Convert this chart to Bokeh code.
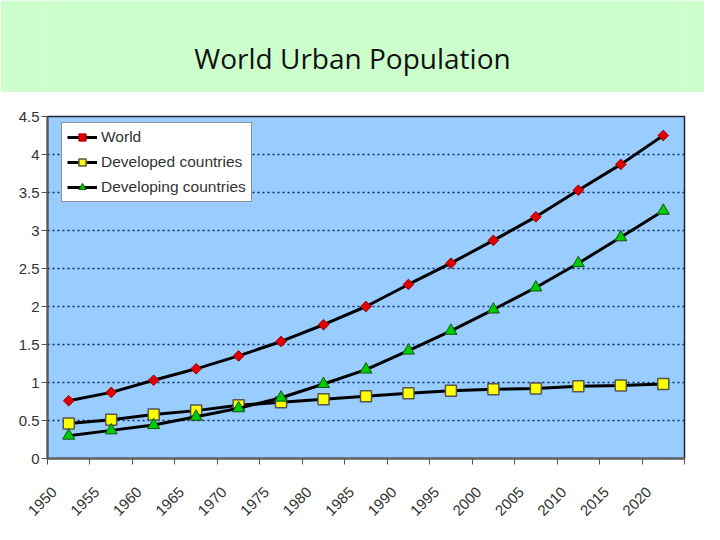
from math import pi
from bokeh.plotting import figure
from bokeh.models import FixedTicker, Label, Legend, LegendItem, LinearAxis, Range1d
from bokeh.layouts import column
from bokeh.embed import file_html
from bokeh.resources import INLINE

title_text = "World Urban Population"
years = [1950, 1955, 1960, 1965, 1970, 1975, 1980, 1985, 1990, 1995, 2000, 2005, 2010, 2015, 2020]
world = [0.76, 0.87, 1.03, 1.18, 1.35, 1.54, 1.76, 2.00, 2.29, 2.57, 2.87, 3.18, 3.53, 3.87, 4.25]
developed = [0.46, 0.51, 0.58, 0.63, 0.70, 0.74, 0.78, 0.82, 0.86, 0.89, 0.91, 0.92, 0.95, 0.96, 0.98]
developing = [0.30, 0.37, 0.44, 0.55, 0.66, 0.80, 0.98, 1.17, 1.42, 1.68, 1.96, 2.25, 2.57, 2.91, 3.26]
series_names = ["World", "Developed countries", "Developing countries"]
y_ticks = [0, 0.5, 1, 1.5, 2, 2.5, 3, 3.5, 4, 4.5]
y_tick_labels = ["0", "0.5", "1", "1.5", "2", "2.5", "3", "3.5", "4", "4.5"]
x_boundaries = [1947.5, 1952.5, 1957.5, 1962.5, 1967.5, 1972.5, 1977.5, 1982.5, 1987.5,
                1992.5, 1997.5, 2002.5, 2007.5, 2012.5, 2017.5, 2022.5]

FONT = "Liberation Sans"
TXT = "#333333"

header = figure(width=704, height=92, x_range=(0, 1), y_range=(0, 1),
                toolbar_location=None, output_backend="svg",
                x_axis_location=None, y_axis_location=None, min_border=0,
                border_fill_color="#CCFFCC", background_fill_color="#CCFFCC",
                outline_line_color=None)
header.grid.visible = False
header.add_layout(Label(x=305, y=35, x_units="screen", y_units="screen", text=title_text,
                        text_align="center", text_baseline="alphabetic",
                        text_font="Open Sans", text_font_size="28px", text_color="#111111"))

p = figure(width=704, height=432, x_range=(1947.5, 2022.5), y_range=(0, 4.5),
           toolbar_location=None, output_backend="svg",
           min_border_left=47, min_border_right=20, min_border_top=24, min_border_bottom=66,
           background_fill_color="#99CCFF", border_fill_color="white",
           outline_line_color="#222233", outline_line_width=1.5)

p.xgrid.visible = False
p.ygrid.ticker = FixedTicker(ticks=y_ticks)
p.ygrid.grid_line_color = "#0b2a5a"
p.ygrid.grid_line_dash = "2 3"
p.ygrid.grid_line_width = 1.5

p.yaxis.ticker = FixedTicker(ticks=y_ticks)
p.yaxis.major_label_overrides = {float(t): s for t, s in zip(y_ticks, y_tick_labels)}
p.yaxis.major_label_text_font = FONT
p.yaxis.major_label_text_font_size = "15px"
p.yaxis.major_label_text_color = TXT
p.yaxis.axis_line_color = "#555555"
p.yaxis.axis_line_width = 2
p.yaxis.major_tick_line_color = "#555555"
p.yaxis.major_tick_out = 6
p.yaxis.major_tick_in = 0
p.yaxis.minor_tick_line_color = None
p.yaxis.major_label_standoff = 2

# main x axis: only the category-boundary ticks
p.xaxis.ticker = FixedTicker(ticks=[], minor_ticks=x_boundaries)
p.xaxis.major_tick_line_color = None
p.xaxis.major_tick_out = 0
p.xaxis.major_tick_in = 0
p.xaxis.minor_tick_line_color = "#555555"
p.xaxis.minor_tick_out = 6
p.xaxis.minor_tick_in = 0
p.xaxis.axis_line_color = "#666666"
p.xaxis.axis_line_width = 2.5
p.xaxis.major_label_standoff = 0
p.xaxis.major_label_text_font_size = "0px"

# label axis, slightly offset like the spreadsheet's rotated category labels
p.extra_x_ranges = {"labels": Range1d(1949.2, 2024.2)}
lab_axis = LinearAxis(x_range_name="labels", ticker=FixedTicker(ticks=years),
                      axis_line_color=None, major_tick_line_color=None,
                      minor_tick_line_color=None, major_tick_out=0, major_tick_in=0,
                      major_label_orientation=pi / 4, major_label_standoff=25,
                      major_label_text_font=FONT, major_label_text_font_size="15px",
                      major_label_text_color=TXT)
p.add_layout(lab_axis, "below")

l1 = p.line(years, world, line_color="black", line_width=3)
m1 = p.scatter(years, world, marker="square", angle=pi / 4, size=7.5,
               fill_color="#E00000", line_color="#990000")
l2 = p.line(years, developed, line_color="black", line_width=3)
m2 = p.scatter(years, developed, marker="square", size=11, fill_color="#FFFF00",
               line_color="#555555", line_width=1.5)
l3 = p.line(years, developing, line_color="black", line_width=3)
m3 = p.scatter(years, developing, marker="triangle", size=12, fill_color="#00CC00",
               line_color="#115511")

legend = Legend(items=[LegendItem(label=series_names[0], renderers=[l1, m1]),
                       LegendItem(label=series_names[1], renderers=[l2, m2]),
                       LegendItem(label=series_names[2], renderers=[l3, m3])],
                location=(14, 256), background_fill_color="white", background_fill_alpha=1,
                border_line_color="#222233", border_line_width=1.5,
                label_text_font=FONT, label_text_font_size="15.5px", label_text_color=TXT,
                glyph_width=30, glyph_height=18, label_height=18, spacing=7, padding=5,
                margin=0, label_standoff=4)
p.add_layout(legend)

layout = column(header, p, spacing=0)
open("out.html", "w").write(file_html(layout, INLINE))
